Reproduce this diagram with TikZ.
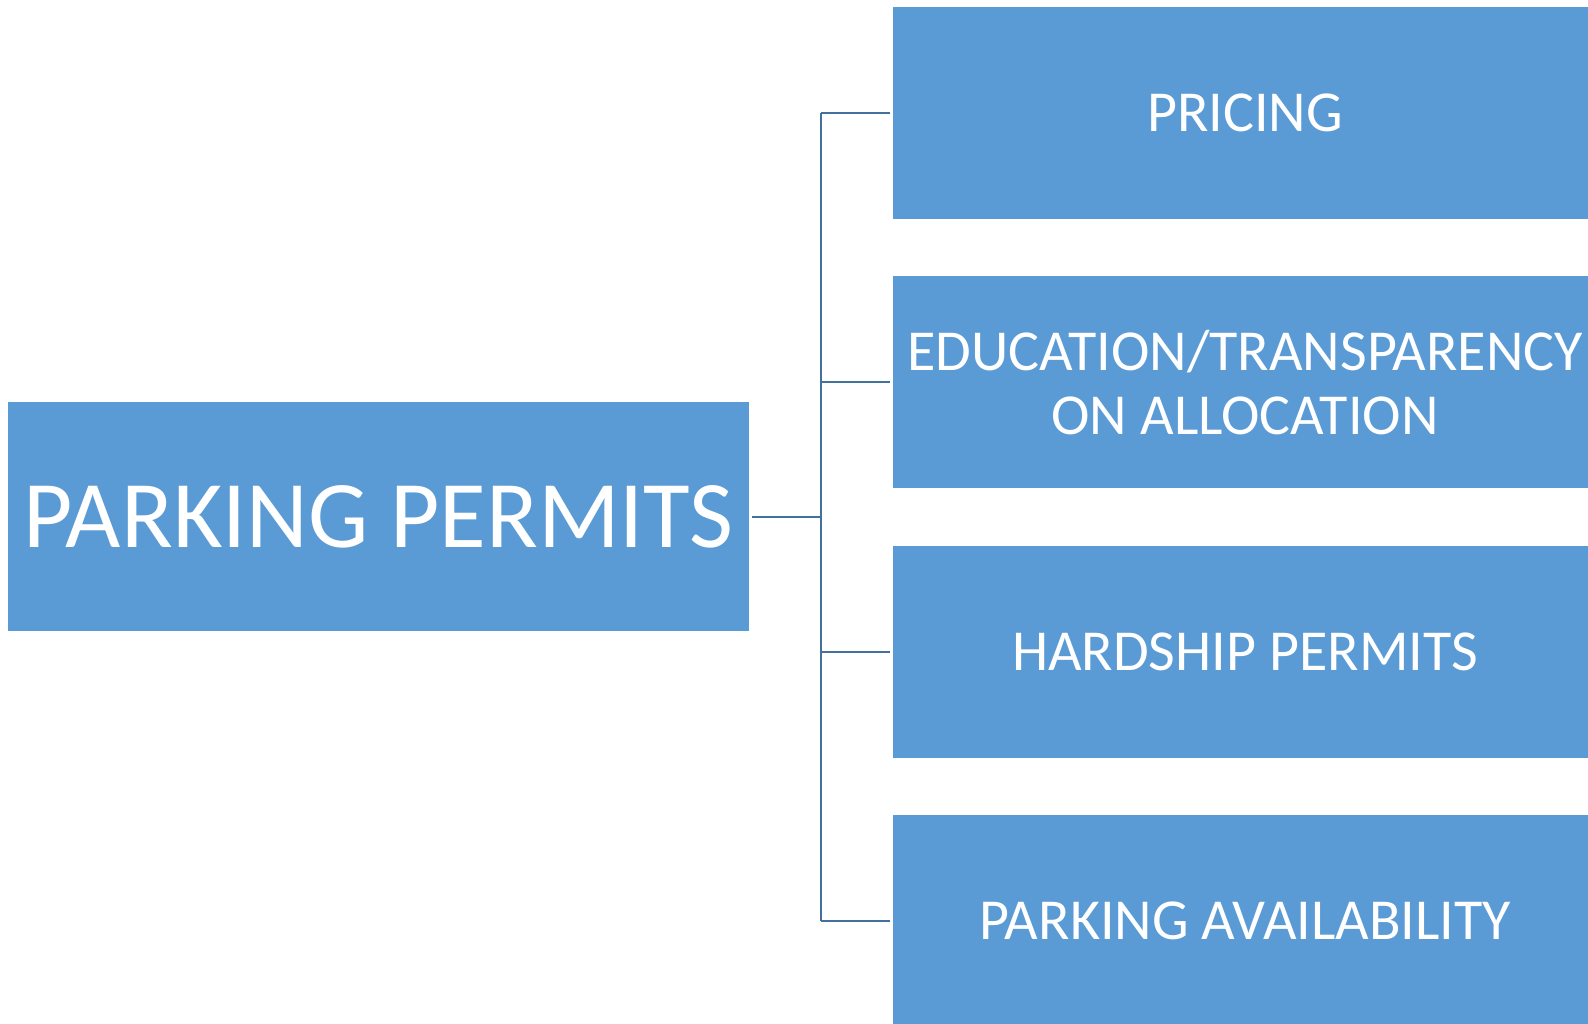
\documentclass[tikz,border=0pt]{standalone}
\usepackage{fontspec}
\setmainfont{Carlito}
\usetikzlibrary{positioning}
\definecolor{boxblue}{HTML}{5B9BD5}
\definecolor{lineblue}{HTML}{41719C}

\begin{document}
\begin{tikzpicture}[
            x = 1pt, y = -1pt, % pixel grid, y pointing down
            node distance = 57pt, % gap between the topic boxes
            box/.style = {fill=boxblue, text=white, inner sep=0pt, align=center,
                minimum width=704pt, minimum height=212pt,
                font=\fontsize{58}{64}\selectfont},
            main/.style = {box, minimum width=741pt, minimum height=229pt,
                font=\fontsize{95.5}{100}\selectfont},
            link/.style = {draw=lineblue, line width=2pt} % connector style
        ]
	\useasboundingbox (0,0) rectangle (1588,1024);

	\node[main] (permits) at (378.5,516.5) {PARKING PERMITS};
	\node[box] (pricing) at (1245,113) {PRICING};
	\node[box] (education) [below=of pricing] {EDUCATION/TRANSPARENCY\\ON ALLOCATION};
	\node[box] (hardship) [below=of education] {HARDSHIP PERMITS};
	\node[box] (availability) [below=of hardship] {PARKING AVAILABILITY};

	\coordinate (fork) at (821,516.5);

	\draw[link] ([xshift=3pt]permits.east) -- (fork);
	\draw[link] (fork |- pricing.west) -- (fork |- availability.west);
	\foreach \n in {pricing,education,hardship,availability}
		\draw[link] (fork |- \n.west) -- ([xshift=-3pt]\n.west);

\end{tikzpicture}
\end{document}
